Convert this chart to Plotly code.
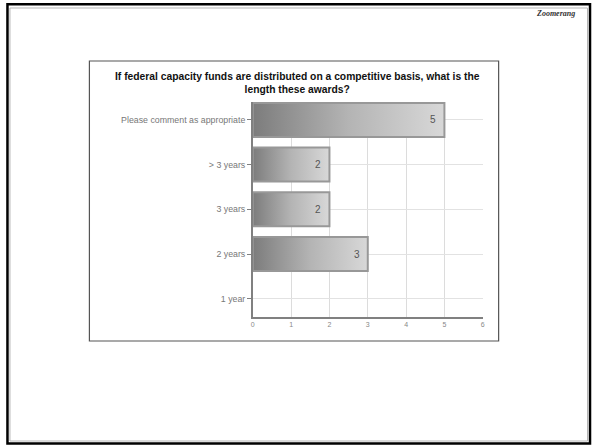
import plotly.graph_objects as go

W, H = 594, 445

categories = ["1 year", "2 years", "3 years", "> 3 years", "Please comment as appropriate"]
counts = [0, 3, 2, 2, 5]
x_ticks = [0, 1, 2, 3, 4, 5, 6]
title_text = "If federal capacity funds are distributed on a competitive basis, what is the<br>length these awards?"

def px(x):
    return x / W

def py(y):
    return 1 - y / H

fig = go.Figure()

half = 0.38
for i, (cat, v) in enumerate(zip(categories, counts)):
    if v <= 0:
        continue
    fig.add_trace(go.Scatter(
        x=[0, v, v, 0, 0],
        y=[i - half, i - half, i + half, i + half, i - half],
        mode="lines",
        fill="toself",
        fillgradient=dict(type="horizontal",
                          colorscale=[[0, "#7c7c7c"], [0.5, "#b4b4b4"], [1, "#d8d8d8"]]),
        line=dict(color="#989898", width=2),
        hoverinfo="skip",
        showlegend=False,
    ))

annotations = []
for i, v in enumerate(counts):
    if v <= 0:
        continue
    annotations.append(dict(
        x=v, y=i, xref="x", yref="y", text=str(v), showarrow=False,
        xanchor="right", yanchor="middle", xshift=-6,
        font=dict(family="Liberation Sans, Arial", size=10, color="#555555"),
    ))

annotations.append(dict(
    text="<b>" + title_text.replace("<br>", "</b><br><b>") + "</b>",
    xref="paper", yref="paper", x=px(297), y=py(83),
    xanchor="center", yanchor="middle", showarrow=False,
    font=dict(family="Liberation Sans, Arial", size=10.3, color="#111111"),
    align="center"))
annotations.append(dict(
    text="<b><i>Zoomerang</i></b>",
    xref="paper", yref="paper", x=px(557), y=py(13),
    xanchor="center", yanchor="middle", showarrow=False,
    font=dict(family="Liberation Serif, serif", size=8, color="#333333")))

shapes = []
# slide border
shapes.append(dict(type="rect", xref="paper", yref="paper",
                   x0=px(5.5), x1=px(592), y0=py(443.5), y1=py(4.3),
                   line=dict(color="#000000", width=2.5), fillcolor="rgba(0,0,0,0)", layer="above"))
shapes.append(dict(type="rect", xref="paper", yref="paper",
                   x0=px(8), x1=px(589.5), y0=py(441), y1=py(8),
                   line=dict(color="#b5b5b5", width=1), fillcolor="rgba(0,0,0,0)", layer="below"))
# chart box
shapes.append(dict(type="rect", xref="paper", yref="paper",
                   x0=px(88), x1=px(500), y0=py(341), y1=py(61),
                   line=dict(color="#555555", width=1.2), fillcolor="#ffffff", layer="below"))

fig.update_layout(
    width=W, height=H,
    margin=dict(l=0, r=0, t=0, b=0),
    paper_bgcolor="#ffffff",
    plot_bgcolor="#f3f3f3",
    shapes=shapes,
    annotations=annotations,
    xaxis=dict(
        domain=[px(252.5), px(484)],
        range=[0, 6],
        tickvals=x_ticks,
        ticktext=[str(t) for t in x_ticks],
        tickfont=dict(family="Liberation Sans, Arial", size=7, color="#888888"),
        showgrid=True, gridcolor="#dcdcdc", gridwidth=1,
        zeroline=False,
        showline=True, linecolor="#808080", linewidth=1.5,
        ticks="", fixedrange=True,
    ),
    yaxis=dict(
        domain=[py(316.7), py(102)],
        range=[-0.4, 4.4],
        tickvals=list(range(len(categories))),
        ticktext=categories,
        tickfont=dict(family="Liberation Sans, Arial", size=8.8, color="#777777"),
        showgrid=True, gridcolor="#e2e2e2", gridwidth=1,
        zeroline=False,
        showline=True, linecolor="#808080", linewidth=1.5,
        ticks="outside", ticklen=4, tickcolor="#808080",
        fixedrange=True,
    ),
)

fig.write_html("out.html", config={"displayModeBar": False},
               post_script="document.body.style.margin='0';document.body.style.overflow='hidden';")
